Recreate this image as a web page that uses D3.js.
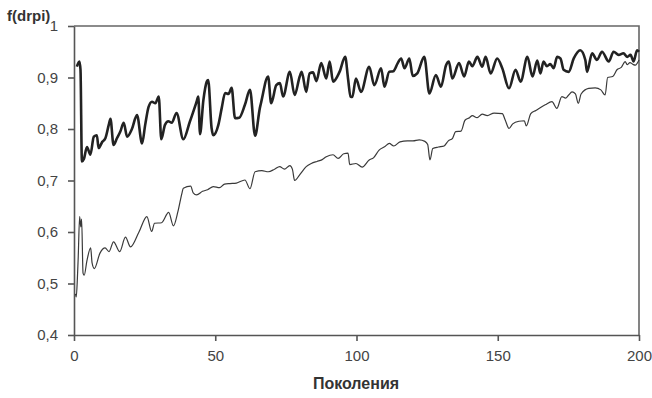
<!DOCTYPE html>
<html>
<head>
<meta charset="utf-8">
<script src="https://cdn.jsdelivr.net/npm/d3@7"></script>
<style>
  body { margin: 0; background: #fff; }
  text { font-family: "Liberation Sans", Arial, sans-serif; fill: #444; }
  .axis path, .axis line { stroke: #555; stroke-width: 1.6; }
  .axis text { font-size: 15px; }
  .title { font-weight: bold; fill: #333; }
</style>
</head>
<body>
<svg id="chart" width="652" height="398"></svg>
<script>
// upper (thick) curve, read at its turning points
var upperGen = [1, 1.9, 2.3, 2.8, 3.5, 4.6, 5.8, 7, 8.1, 8.7, 10, 11.1, 12.3, 12.9, 14, 15.2, 16.4, 17.6, 18.8, 20.5,
  22.3, 24.1, 25.2, 26.4, 27.6, 28.8, 30, 30.9, 32.2, 33.4, 34.6, 36.3, 38.7, 41, 43.4, 44, 44.6, 45.8, 47, 47.5,
  48.7, 49.3, 51.1, 52.3, 53.5, 54.7, 55.8, 57, 58.5, 60.5, 62.3, 64.1, 65.8, 66.3, 68.7, 69.8, 71.6, 72.9, 74, 76.4,
  78.1, 79.9, 80.6, 82.2, 83.4, 84.6, 85.8, 87.5, 89.3, 90.5, 91.7, 94, 96, 97, 97.9, 98.5, 99.8, 101.6, 104.5, 106.3,
  108.7, 109.9, 111.6, 113, 114.6, 115.8, 117, 118.7, 119.9, 121.5, 124, 125.8, 128.1, 129.9, 131.7, 132.7, 133.9, 136.3, 138.1, 139.8,
  141, 142.8, 144.5, 145.7, 147.5, 149.8, 151.6, 154, 156.3, 158.1, 160.5, 162.3, 164, 165.1, 166.2, 167.4, 168.6, 169.8, 171, 172.2,
  173.3, 175.1, 176.9, 179.2, 181, 181.6, 183.4, 185.1, 186.9, 189.3, 191, 192.8, 194.5, 195.8, 197, 198.1, 199.3, 200]
var upperVal = [0.921, 0.931, 0.915, 0.737, 0.742, 0.765, 0.750, 0.785, 0.788, 0.763, 0.775, 0.782, 0.808, 0.820, 0.769, 0.782, 0.795, 0.812, 0.785, 0.800,
  0.827, 0.772, 0.808, 0.843, 0.853, 0.850, 0.863, 0.780, 0.808, 0.815, 0.812, 0.831, 0.780, 0.814, 0.853, 0.863, 0.790, 0.856, 0.892, 0.895,
  0.802, 0.788, 0.808, 0.841, 0.870, 0.868, 0.880, 0.821, 0.822, 0.847, 0.876, 0.787, 0.841, 0.853, 0.902, 0.850, 0.885, 0.889, 0.863, 0.911,
  0.866, 0.902, 0.911, 0.872, 0.908, 0.910, 0.893, 0.928, 0.898, 0.931, 0.892, 0.911, 0.940, 0.898, 0.863, 0.862, 0.898, 0.872, 0.921, 0.885,
  0.918, 0.882, 0.911, 0.912, 0.928, 0.937, 0.918, 0.937, 0.903, 0.908, 0.940, 0.869, 0.905, 0.882, 0.924, 0.931, 0.898, 0.928, 0.902, 0.931,
  0.922, 0.940, 0.921, 0.940, 0.908, 0.937, 0.918, 0.879, 0.915, 0.892, 0.940, 0.902, 0.933, 0.908, 0.931, 0.922, 0.926, 0.918, 0.940, 0.937,
  0.915, 0.911, 0.937, 0.953, 0.934, 0.911, 0.947, 0.934, 0.950, 0.931, 0.950, 0.944, 0.947, 0.940, 0.944, 0.931, 0.953, 0.950]

// lower (thin) curve
var lowerGen = [0.5, 0.8, 1.2, 1.5, 2, 2.4, 2.7, 3.2, 3.6, 4.6, 5.9, 6.4, 7.2, 9.2, 11, 12.4, 14, 16.2, 18.2, 20,
  23, 25.8, 27.5, 28.5, 31, 33.5, 35.2, 36.8, 38.2, 38.7, 41.3, 42.2, 43.4, 45.5, 47.3, 49.3, 51.5, 53.3, 55.2, 57.5,
  60.5, 62.3, 64.1, 66.5, 68.8, 71, 72.8, 74.5, 76.4, 77.3, 78.1, 80, 82.2, 84, 86, 87.7, 89.3, 91.7, 93.5, 95.5,
  97, 97.6, 99.8, 102, 104.5, 106, 108, 110.1, 111.6, 113.2, 115.4, 118, 120, 122.2, 124.2, 125.2, 126, 127, 129, 131,
  132.5, 134, 135.1, 137, 138.4, 140, 141, 142.7, 144.5, 146.3, 148.7, 151.6, 152.6, 154, 155.3, 157.5, 159.4, 160.1, 161.7, 163.5,
  166.8, 169.2, 170.9, 172.7, 174, 175.1, 176.3, 177.5, 178.5, 179.5, 182.2, 184.5, 186.5, 188, 188.9, 190.7, 192.2, 193.8, 195.1, 195.8,
  196.8, 198, 198.7, 200]
var lowerVal = [0.480, 0.474, 0.510, 0.552, 0.630, 0.610, 0.625, 0.520, 0.516, 0.545, 0.569, 0.540, 0.529, 0.559, 0.569, 0.562, 0.581, 0.562, 0.590, 0.571,
  0.600, 0.630, 0.601, 0.617, 0.618, 0.638, 0.612, 0.640, 0.675, 0.685, 0.689, 0.676, 0.672, 0.679, 0.682, 0.688, 0.686, 0.693, 0.694, 0.695,
  0.701, 0.684, 0.717, 0.719, 0.717, 0.722, 0.727, 0.722, 0.729, 0.722, 0.700, 0.712, 0.727, 0.733, 0.737, 0.740, 0.746, 0.750, 0.743, 0.752,
  0.753, 0.731, 0.733, 0.726, 0.740, 0.744, 0.759, 0.766, 0.772, 0.767, 0.775, 0.777, 0.777, 0.779, 0.776, 0.770, 0.740, 0.762, 0.765, 0.767,
  0.777, 0.782, 0.795, 0.796, 0.817, 0.822, 0.826, 0.822, 0.829, 0.826, 0.831, 0.830, 0.818, 0.801, 0.810, 0.815, 0.816, 0.806, 0.830, 0.836,
  0.847, 0.853, 0.840, 0.863, 0.860, 0.866, 0.872, 0.868, 0.850, 0.868, 0.879, 0.880, 0.876, 0.866, 0.900, 0.902, 0.915, 0.920, 0.931, 0.925,
  0.929, 0.925, 0.924, 0.934]

var xTicks = [0, 50, 100, 150, 200]
var yTicks = [0.4, 0.5, 0.6, 0.7, 0.8, 0.9, 1]

var svg = d3.select("#chart")

var x = d3.scaleLinear().domain([0, 200]).range([74, 639])
var y = d3.scaleLinear().domain([0.4, 1]).range([335, 26])

var fmt = function (d) { return d === 1 ? "1" : d3.format(".1f")(d).replace(".", ",") }

// frame on top and right
svg.append("path")
  .attr("d", "M" + x(0) + "," + y(1) + "H" + x(200) + "V" + y(0.4))
  .attr("fill", "none")
  .attr("stroke", "#666")
  .attr("stroke-width", 1.6)

svg.append("g")
  .attr("class", "axis")
  .attr("transform", "translate(0," + y(0.4) + ")")
  .call(d3.axisBottom(x).tickValues(xTicks).tickSize(6).tickPadding(9).tickSizeOuter(0))

svg.append("g")
  .attr("class", "axis")
  .attr("transform", "translate(" + x(0) + ",0)")
  .call(d3.axisLeft(y).tickValues(yTicks).tickFormat(fmt).tickSize(6).tickPadding(10).tickSizeOuter(0))

var line = d3.line()
  .curve(d3.curveMonotoneX)
  .x(function (d) { return x(d[0]) })
  .y(function (d) { return y(d[1]) })

svg.append("path")
  .datum(d3.zip(lowerGen, lowerVal))
  .attr("fill", "none")
  .attr("stroke", "#3a3a3a")
  .attr("stroke-width", 1.2)
  .attr("stroke-linejoin", "round")
  .attr("d", line)

svg.append("path")
  .datum(d3.zip(upperGen, upperVal))
  .attr("fill", "none")
  .attr("stroke", "#222")
  .attr("stroke-width", 2.6)
  .attr("stroke-linejoin", "round")
  .attr("d", line)

svg.append("text")
  .attr("class", "title")
  .attr("x", 7)
  .attr("y", 21)
  .style("font-size", "15px")
  .text("f(drpi)")

svg.append("text")
  .attr("class", "title")
  .attr("x", 356)
  .attr("y", 389)
  .attr("text-anchor", "middle")
  .style("font-size", "16px")
  .text("Поколения")
</script>
</body>
</html>
